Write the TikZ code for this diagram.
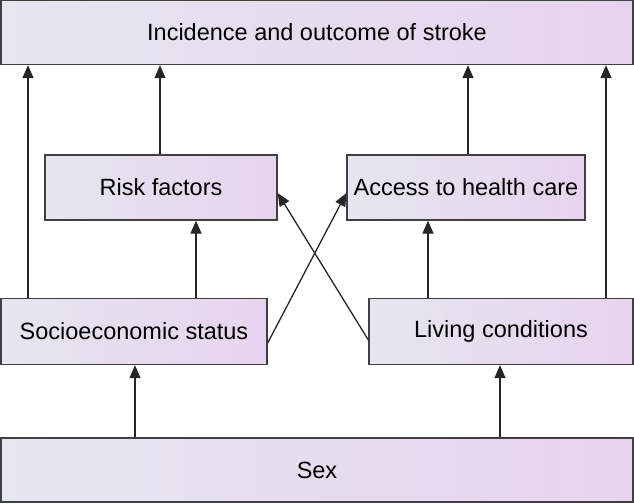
\documentclass[tikz,border=0pt]{standalone}
\usepackage{fontspec}
\setmainfont{Liberation Sans}
\usetikzlibrary{arrows.meta}
\definecolor{lc}{HTML}{E4E6F0}
\definecolor{rc}{HTML}{E8D3EE}
\begin{document}
\begin{tikzpicture}[x=1pt,y=-1pt,
  box/.style={draw=black!75,line width=1.3pt,left color=lc,right color=rc,font=\fontsize{23.5}{28}\selectfont,inner sep=0pt},
  arr/.style={-{Triangle[length=13pt,width=11pt]},line width=1.3pt,black!85}]
\useasboundingbox (0,0) rectangle (634,503);
\node[box,minimum width=632pt,minimum height=64pt] (top) at (317,32.5) {Incidence and outcome of stroke};
\node[box,minimum width=232pt,minimum height=65pt] (risk) at (161,187.5) {Risk factors};
\node[box,minimum width=238pt,minimum height=65pt] (acc) at (466,187.5) {Access to health care};
\node[box,minimum width=266pt,minimum height=66pt] (soc) at (134,331.5) {Socioeconomic status};
\node[box,minimum width=264pt,minimum height=66pt] (liv) at (501,331.5) {Living conditions};
\node[box,minimum width=632pt,minimum height=64pt] (sex) at (317,470) {Sex};
\draw[arr] (soc.north -| 28,0) -- (top.south -| 28,0);
\draw[arr] (risk.north -| 160,0) -- (top.south -| 160,0);
\draw[arr] (acc.north -| 468,0) -- (top.south -| 468,0);
\draw[arr] (liv.north -| 606,0) -- (top.south -| 606,0);
\draw[arr] (soc.north -| 196,0) -- (risk.south -| 196,0);
\draw[arr] (liv.north -| 428,0) -- (acc.south -| 428,0);
\draw[arr] (sex.north -| 135,0) -- (soc.south -| 135,0);
\draw[arr] (sex.north -| 500,0) -- (liv.south -| 500,0);
\draw[arr] (soc.east |- 0,343) -- (acc.west |- 0,193);
\draw[arr] (liv.west |- 0,340) -- (risk.east |- 0,193);
\end{tikzpicture}
\end{document}
